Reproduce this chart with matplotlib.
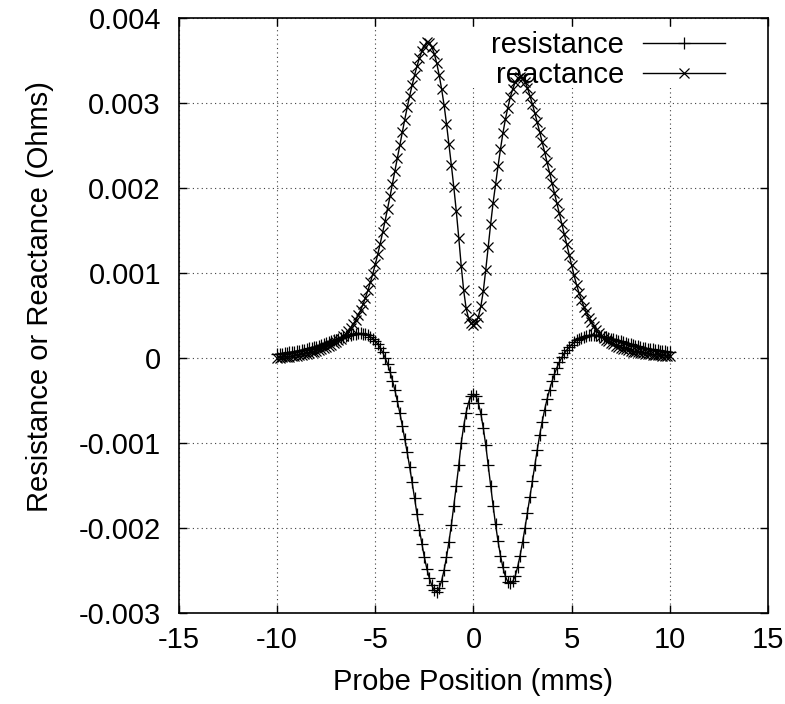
import numpy as np
import matplotlib
matplotlib.use('Agg')
import matplotlib.pyplot as plt
from matplotlib.patches import Rectangle

plt.rcParams['font.family'] = ['Liberation Sans', 'DejaVu Sans']
plt.rcParams['axes.unicode_minus'] = False

# probe positions (mm), one sample every 0.125 mm
position = np.linspace(-10, 10, 161)

# values, in micro-ohms
resistance_uohm = [
    48, 52, 56, 60, 64, 69, 74, 79, 84, 90,
    96, 102, 109, 116, 123, 131, 139, 148, 157, 167,
    177, 188, 199, 210, 221, 232, 243, 253, 262, 271,
    279, 285, 290, 293, 292, 289, 282, 270, 253, 231,
    204, 168, 124, 70, 8, -67, -157, -261, -378, -506,
    -644, -791, -946, -1108, -1278, -1458, -1645, -1835, -2015, -2185,
    -2340, -2475, -2585, -2670, -2725, -2745, -2705, -2620, -2495, -2340,
    -2160, -1960, -1735, -1500, -1260, -1000, -800, -640, -520, -445,
    -420,
    -445, -525, -650, -820, -1020, -1260, -1500, -1735, -1955, -2150,
    -2320, -2460, -2565, -2628, -2647, -2625, -2560, -2455, -2320, -2165,
    -1995, -1815, -1630, -1445, -1260, -1075, -900, -745, -605, -480,
    -370, -272, -185, -110, -45, 10, 57, 97, 132, 162,
    188, 210, 228, 243, 255, 264, 270, 273, 274, 272,
    268, 263, 256, 248, 240, 232, 224, 215, 206, 198,
    189, 180, 172, 164, 156, 148, 141, 134, 127, 121,
    115, 109, 104, 99, 94, 90, 86, 82, 79, 76,
]

reactance_uohm = [
    5, 8, 11, 14, 18, 21, 25, 29, 33, 38,
    43, 49, 55, 62, 70, 78, 87, 97, 108, 120,
    133, 146, 160, 175, 192, 211, 233, 259, 290, 323,
    360, 402, 450, 505, 567, 637, 715, 801, 895, 997,
    1107, 1225, 1350, 1481, 1618, 1760, 1906, 2055, 2206, 2358,
    2510, 2661, 2809, 2952, 3088, 3213, 3331, 3439, 3534, 3614,
    3677, 3725, 3712, 3665, 3585, 3475, 3335, 3170, 2985, 2760,
    2520, 2270, 2010, 1730, 1420, 1090, 800, 590, 470, 410,
    392,
    420, 490, 610, 790, 1040, 1310, 1580, 1830, 2050, 2260,
    2460, 2650, 2810, 2950, 3070, 3170, 3245, 3295, 3313, 3300,
    3255, 3180, 3090, 2990, 2885, 2775, 2660, 2545, 2425, 2305,
    2185, 2065, 1945, 1825, 1705, 1585, 1465, 1345, 1220, 1095,
    975, 865, 770, 685, 608, 540, 478, 425, 377, 334,
    297, 265, 240, 220, 200, 182, 165, 150, 137, 125,
    114, 104, 95, 87, 80, 74, 69, 64, 59, 55,
    51, 47, 44, 41, 38, 35, 32, 30, 27, 25,
]

x_ticks = [-15, -10, -5, 0, 5, 10, 15]
y_ticks = [-0.003, -0.002, -0.001, 0, 0.001, 0.002, 0.003, 0.004]
y_tick_labels = ['-0.003', '-0.002', '-0.001', '0', '0.001', '0.002', '0.003', '0.004']

resistance = np.array(resistance_uohm) * 1e-6
reactance = np.array(reactance_uohm) * 1e-6

FS = 21

fig = plt.figure(figsize=(7.85, 7.04), dpi=100)
ax = fig.add_axes([0.2280, 0.1288, 0.7503, 0.8452])

ax.plot(position, resistance, color='black', lw=1, marker='+', ms=8.5,
        mew=0.9, label='resistance', zorder=3)
ax.plot(position, reactance, color='black', lw=1, marker='x', ms=7.5,
        mew=0.9, label='reactance', zorder=3)

ax.set_xlim(-15, 15)
ax.set_ylim(-0.003, 0.004)
ax.set_xticks(x_ticks)
ax.set_xticklabels([str(t) for t in x_ticks])
ax.set_yticks(y_ticks)
ax.set_yticklabels(y_tick_labels)

# dotted grid like gnuplot
ax.set_axisbelow(True)
ax.grid(True, color='0.25', linestyle=(0, (1, 3)), linewidth=0.8)

ax.tick_params(direction='in', length=6, width=1, top=True, right=True,
               labelsize=FS)
ax.tick_params(axis='x', pad=9)
ax.tick_params(axis='y', pad=13)
for s in ax.spines.values():
    s.set_linewidth(1.2)

# blank area behind the key (grid hidden there, data still on top)
ax.add_patch(Rectangle((0.47, 0.8829), 0.53, 0.9855 - 0.8829,
                       transform=ax.transAxes, facecolor='white',
                       edgecolor='none', zorder=1))

ax.legend(loc='upper right', bbox_to_anchor=(0.927, 0.979),
          borderaxespad=0, borderpad=0, frameon=False, markerfirst=False,
          handlelength=2.8, handletextpad=0.65, labelspacing=0.08,
          fontsize=FS)

ax.set_xlabel('Probe Position (mms)', fontsize=FS)
ax.xaxis.set_label_coords(0.5, -0.092)
ax.set_ylabel('Resistance or Reactance (Ohms)', fontsize=FS)
ax.yaxis.set_label_coords(-0.212, 0.532)

fig.savefig('out.png', dpi=100)
